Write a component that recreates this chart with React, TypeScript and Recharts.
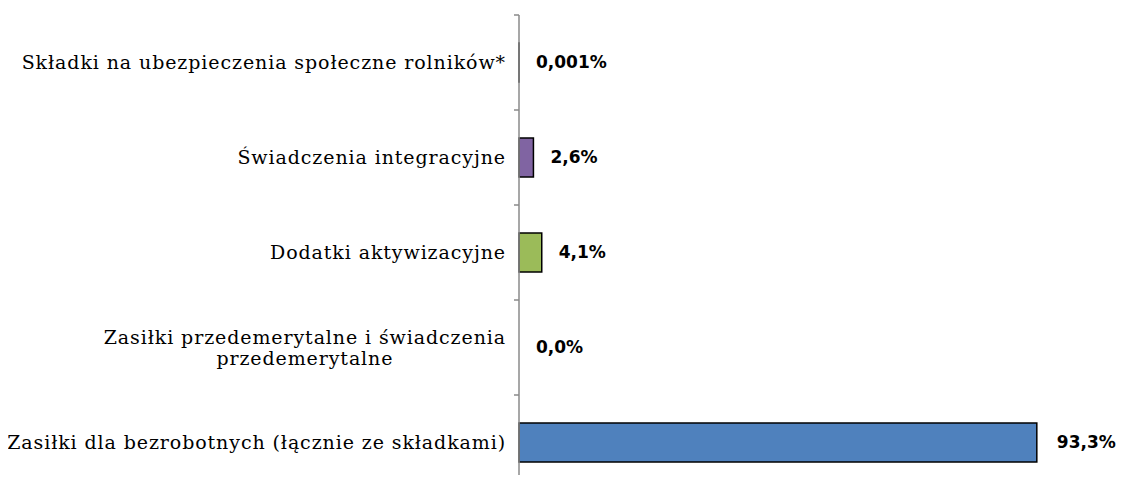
import { BarChart, Bar, XAxis, YAxis, Cell, LabelList } from "recharts";

const categories = [
  "Składki na ubezpieczenia społeczne rolników*",
  "Świadczenia integracyjne",
  "Dodatki aktywizacyjne",
  "Zasiłki przedemerytalne i świadczenia\nprzedemerytalne",
  "Zasiłki dla bezrobotnych (łącznie ze składkami)",
];
const shares = [0.001, 2.6, 4.1, 0.0, 93.3];
const barColors = ["#C0504D", "#8064A2", "#9BBB59", "#4BACC6", "#4F81BD"];

const data = categories.map((name, i) => ({ name, share: shares[i] }));

const W = 1117;
const H = 490;
const MARGIN = { top: 7, right: 51, bottom: 8, left: 0 };
const AXIS_W = 511;
const BAND = (H - MARGIN.top - MARGIN.bottom) / categories.length;
const CAT_SIZE = 19;
const CAT_SPACING = 0.9;
const AXIS_COLOR = "#8a8a8a";

let ctx: CanvasRenderingContext2D | null = null;
function textWidth(s: string) {
  if (!ctx) ctx = document.createElement("canvas").getContext("2d");
  if (!ctx) return s.length * 10.5;
  ctx.font = `${CAT_SIZE}px 'DejaVu Serif'`;
  return ctx.measureText(s).width + s.length * CAT_SPACING;
}

function CategoryTick(props: any) {
  const { y, payload, index } = props;
  const lines = String(payload.value).split("\n");
  const right = AXIS_W - 13;
  const maxW = Math.max(...lines.map(textWidth));
  const lh = 21;
  const y0 = y - ((lines.length - 1) * lh) / 2;
  const half = BAND / 2;
  return (
    <g>
      <line x1={AXIS_W - 5} x2={AXIS_W} y1={y - half} y2={y - half} stroke={AXIS_COLOR} strokeWidth={1.5} />
      {index === categories.length - 1 && (
        <line x1={AXIS_W - 5} x2={AXIS_W} y1={y + half} y2={y + half} stroke={AXIS_COLOR} strokeWidth={1.5} />
      )}
      {lines.map((l, i) => (
        <text
          key={i}
          x={right - maxW / 2}
          y={y0 + i * lh}
          dy="0.35em"
          textAnchor="middle"
          fontFamily="'DejaVu Serif'"
          fontSize={CAT_SIZE}
          letterSpacing={CAT_SPACING}
          fill="#000"
        >
          {l}
        </text>
      ))}
    </g>
  );
}

function fmt(v: number) {
  const digits = v > 0 && v < 0.01 ? 3 : 1;
  return v.toFixed(digits).replace(".", ",") + "%";
}

function ValueLabel(props: any) {
  const { x, y, width, height, value } = props;
  const off = value > 50 ? 20 : 17;
  return (
    <text
      x={Number(x) + Number(width) + off}
      y={Number(y) + Number(height) / 2}
      dy="0.35em"
      fontFamily="'DejaVu Sans'"
      fontWeight="bold"
      fontSize={17}
      fill="#000"
    >
      {fmt(Number(value))}
    </text>
  );
}

export default function App() {
  return (
    <div style={{ width: W, height: 475, overflow: "hidden", marginBottom: -8 }}>
      <BarChart width={W} height={H} data={data} layout="vertical" margin={MARGIN}>
        <XAxis type="number" domain={[0, 100]} hide />
        <YAxis
          type="category"
          dataKey="name"
          width={AXIS_W}
          tickLine={false}
          axisLine={{ stroke: AXIS_COLOR, strokeWidth: 1.5 }}
          tick={<CategoryTick />}
          interval={0}
        />
        <Bar
          dataKey="share"
          barSize={39}
          minPointSize={0.01}
          strokeWidth={1.5}
          isAnimationActive={false}
        >
          {data.map((d, i) => (
            <Cell key={d.name} fill={barColors[i]} stroke={d.share === 0 ? "none" : "#000"} />
          ))}
          <LabelList dataKey="share" content={<ValueLabel />} />
        </Bar>
      </BarChart>
    </div>
  );
}
